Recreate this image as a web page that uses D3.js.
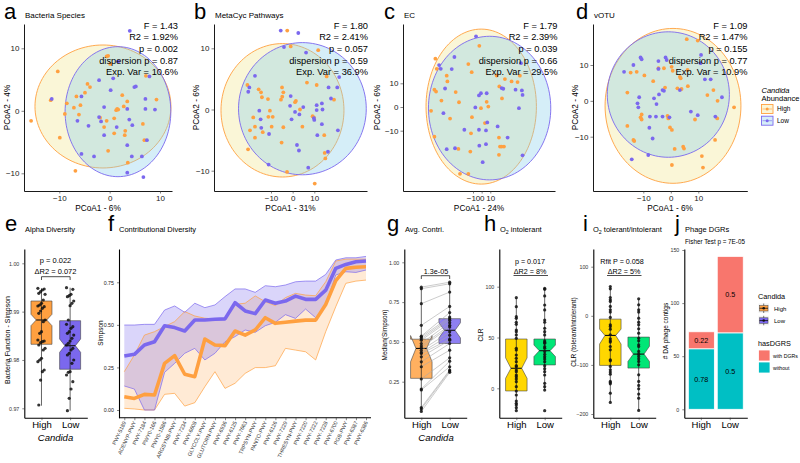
<!DOCTYPE html>
<html><head><meta charset="utf-8">
<script src="https://cdn.jsdelivr.net/npm/d3@7"></script>
<style>body{margin:0;background:#fff} svg text{font-family:"Liberation Sans",Arial,Helvetica,sans-serif}</style>
</head><body><svg id="c" width="800" height="463"></svg>
<script>
// ---------------- DATA ----------------
const groups = ["High", "Low"];
const ptColor = {High: "#FFA040", Low: "#7B68EE"};

// a: Bacteria Species PCoA
const speciesHigh = [[-0.6,8.7],[-0.3,8.8],[0.1,7.5],[-10.3,6.3],[-11.7,1.7],[-4.4,4.3],[-4.9,2.9],[-3.9,3.8],[-6.6,2.3],[-5.8,0.9],[-7.1,0.5],[-6.1,-0.6],[-8.5,1.2],[-8.9,-0.5],[-15.6,-1.6],[-9.9,-4.3],[-6.8,-9.6],[-0.3,-6.4],[-1.9,-1.1],[-1.1,-2.6],[-0.6,-1.6],[0.9,-1.2],[1.3,0.1],[1.7,0.2],[1.5,0.3],[2.8,0.7],[2.5,2.5],[3.5,1.5],[3.1,-3.2],[3.0,-3.9],[0.9,-3.6],[6.6,-2.1],[6.9,-4.7],[9.3,1.8],[3.6,-8.3],[7.2,5.6]];
const speciesLow = [[4.0,12.8],[1.7,7.9],[-2.1,4.9],[0.7,5.2],[0.2,3.3],[-5.6,2.3],[4.9,3.8],[5.2,3.9],[7.9,5.5],[7.1,1.9],[7.1,0.3],[9.0,0.2],[7.4,-4.7],[3.5,-5.5],[4.4,-7.3],[6.4,-7.3],[6.7,-10.6],[3.5,-9.9],[-5.6,-6.9],[-3.1,-7.3],[-1.1,-3.9],[1.4,-2.6],[-2.1,-1.0],[-1.7,-1.7],[-4.2,-2.4],[-6.4,-1.6],[-1.1,0.6],[3.5,0.3],[3.9,-1.4],[4.5,-2.3],[-11.5,1.9]];
const speciesEllipse = {High: [-1.33, 0.69, 13.5, 9.84], Low: [1.65, -0.14, 10.5, 10.4]};
const speciesStats = ["F = 1.43", "R2 = 1.92%", "p = 0.002", "dispersion p = 0.87", "Exp. Var = 10.6%"];

// b: MetaCyc Pathways PCoA
const pathwayHigh = [[-2.5,12.9],[-0.9,10.3],[11.8,9.7],[15.7,5.4],[6.6,4.4],[11.1,4.0],[19.1,1.6],[-20.9,4.0],[-15.7,3.3],[-14.6,2.8],[-14.2,2.0],[-11.4,1.7],[-4.9,3.6],[-4.3,2.8],[-4.8,2.1],[-5.4,1.6],[1.5,1.4],[1.1,1.2],[3.4,0.0],[-10.5,-0.2],[-11.2,-1.2],[-9.2,-1.2],[-18.2,-1.3],[-17.4,-2.8],[-19.7,-3.4],[-13.8,-3.7],[-9.7,-2.8],[-4.3,-2.9],[4.5,-2.8],[9.2,-1.1],[9.8,-1.3],[14.6,-4.2],[14.8,-7.1],[15.1,-8.0],[-5.1,-5.4],[-17.4,-4.6],[-20.6,-6.5],[-2.6,-10.2],[10.2,-12.1]];
const pathwayLow = [[-5.5,12.9],[2.6,12.5],[-4.0,10.2],[6.2,9.3],[21.5,5.3],[-17.4,5.5],[-20.0,3.6],[-20.5,2.9],[16.6,3.6],[20.6,3.6],[17.7,1.8],[11.1,0.7],[13.5,1.0],[13.8,0.0],[11.1,-0.1],[4.9,0.4],[-1.2,0.6],[1.1,-0.4],[-0.9,2.2],[-15.4,-0.2],[-14.8,-1.6],[-14.5,-3.0],[-10.9,-4.0],[-0.5,-1.6],[3.1,-0.8],[9.8,-1.4],[10.0,-1.7],[13.5,-2.4],[11.4,-4.2],[20.9,-3.4],[16.3,-6.9],[2.0,-5.8],[2.9,-6.7],[7.2,-9.5],[-11.1,-9.0]];
const pathwayEllipse = {High: [-4.7, -0.13, 28.4, 10.9], Low: [4.5, 0.13, 29.5, 10.8]};
const pathwayStats = ["F = 1.80", "R2 = 2.41%", "p = 0.057", "dispersion p = 0.59", "Exp. Var = 36.9%"];

// c: EC PCoA
const ecHigh = [[-2.7,25.8],[-53.5,20.4],[-51.9,16.1],[-40.4,13.2],[-39.6,10.8],[-15.4,18.1],[-11.5,14.7],[17.3,13.3],[26.9,11.8],[34.6,10.8],[44.2,13.2],[41.5,10.5],[20.4,8.7],[23.5,3.6],[-52.7,6.5],[-54.6,7.3],[-30.0,6.3],[-26.2,2.0],[-46.5,2.7],[-58.5,-1.6],[-36.5,-4.9],[-11.2,-4.3],[-0.8,-0.5],[5.8,2.2],[7.7,0.2],[3.8,-6.8],[-12.3,-11.1],[20.0,-12.9],[21.2,-16.7],[23.1,-16.7],[25.8,-16.7],[20.0,-20.2],[-13.1,-18.8],[-26.9,-17.7],[-54.6,-12.5],[-25.0,-28.2],[-15.4,-28.2]];
const ecLow = [[-6.5,29.8],[-49.2,17.7],[-47.3,16.1],[-31.5,21.1],[-34.6,16.0],[-42.3,7.8],[45.4,18.5],[39.2,7.3],[46.5,7.0],[47.3,5.1],[23.1,8.0],[25.0,7.7],[43.1,-0.5],[-0.8,5.8],[5.8,5.8],[-3.1,4.9],[-7.3,-0.2],[-44.2,-2.6],[-20.0,-9.6],[-3.1,-9.6],[5.0,-9.9],[6.5,-6.5],[18.5,-8.2],[30.0,-12.9],[-2.7,-16.3],[5.0,-15.7],[-40.4,-17.8],[-30.8,-17.4],[1.2,-23.3],[47.3,-20.4]];
const ecEllipse = {High: [-0.5, 0.17, 63.8, 32.7], Low: [9.2, -0.46, 70.7, 30.3]};
const ecStats = ["F = 1.79", "R2 = 2.39%", "p = 0.039", "dispersion p = 0.66", "Exp. Var = 29.5%"];

// d: vOTU PCoA
const votuHigh = [[5.8,17.2],[9.8,16.8],[-4.5,9.1],[-2.5,9.1],[0.3,9.5],[0.7,8.4],[6.1,8.6],[-14.6,7.9],[-12.4,8.1],[-9.6,7.1],[-6.4,5.5],[3.3,6.7],[3.6,6.3],[-2.1,3.7],[2.4,3.5],[3.9,3.3],[6.2,4.1],[-15.8,2.3],[15.5,3.0],[17.0,0.0],[13.3,1.6],[23.0,-1.8],[16.9,-4.9],[8.8,-5.2],[-1.2,-4.2],[-0.9,-4.9],[-10.6,-3.8],[-11.0,-4.6],[-10.6,-5.2],[-15.8,-7.0],[-0.3,-7.4],[0.4,-8.1],[-13.6,-10.9],[-13.3,-11.2],[1.4,-13.4],[4.5,-12.8],[4.8,-13.3],[16.1,-10.9],[11.3,-15.4],[11.7,-18.6],[0.4,-17.9]];
const votuLow = [[-11.0,12.1],[-10.6,11.6],[-13.6,10.0],[-17.0,8.1],[-4.5,11.1],[-1.9,12.1],[-1.5,11.4],[-4.5,8.9],[11.0,12.8],[10.8,10.5],[12.4,6.0],[14.5,6.0],[3.3,3.0],[-3.0,3.0],[-2.5,2.8],[-4.3,1.8],[-11.5,1.0],[-12.1,-0.7],[-11.8,-1.8],[-6.1,0.7],[-5.2,-0.9],[-7.6,-4.4],[-5.4,-4.4],[-3.0,-4.4],[-0.5,-4.6],[7.3,-3.0],[9.8,-4.0],[16.2,-4.4],[18.6,1.0],[-7.8,-7.5],[-6.6,-10.5],[-8.2,-15.1],[-14.2,-16.3]];
const votuEllipse = {High: [0.8, -1.4, 24.7, 21.6], Low: [-0.9, 1.76, 22.2, 17.5]};
const votuStats = ["F = 1.09", "R2 = 1.47%", "p = 0.155", "dispersion p = 0.77", "Exp. Var = 10.9%"];

// e: Alpha diversity (Bacteria Function - Simpson)
const alphaHigh = [0.99482,0.99468,0.99448,0.99413,0.99379,0.99358,0.99241,0.99172,0.99137,0.99117,0.99103,0.99068,0.99013,0.98965,0.98827,0.98792,0.98585,0.98551,0.98413,0.98392,0.98378,0.98358,0.98310,0.98241,0.98206,0.98034,0.97999,0.97965,0.97792,0.97758,0.97585,0.97068];
const alphaLow = [0.99496,0.99461,0.99358,0.99330,0.99310,0.99220,0.99172,0.99123,0.98827,0.98737,0.98689,0.98654,0.98585,0.98551,0.98516,0.98448,0.98392,0.98344,0.98310,0.98241,0.98206,0.98137,0.98103,0.97999,0.97930,0.97758,0.97744,0.97689,0.97551,0.97399,0.97206,0.96951];
// [lower whisker, Q1, notch low, median, notch high, Q3, upper whisker]
const alphaBoxHigh = [0.97054, 0.98324, 0.98709, 0.98827, 0.98945, 0.99220, 0.99483];
const alphaBoxLow = [0.96950, 0.97807, 0.98158, 0.98295, 0.98434, 0.98813, 0.99495];

// f: Contributional diversity
const pathwayCats = ["PWY-5189","ADENYP-PWY","PWY-7184","PWY0-166","PWY0-1586","ARGSYNB-PWY","PWY-7234","PWY-6608","GLYCOLY-PWY","GLUTORN-PWY","PWY-6936","PWY-6125","PWY-7663","TRPSYN-PWY","PANTO-PWY","PWY-6126","PWY-7229","THRESYN-PWY","PWY-7220","PWY-7222","PWY-7228","PWY-6700","PGB-PWY","PWY-6387","PWY-6386"];
const contribHighMed = [0.078,0.068,0.092,0.088,0.274,0.319,0.210,0.196,0.417,0.382,0.378,0.464,0.440,0.470,0.542,0.509,0.515,0.522,0.528,0.528,0.620,0.760,0.832,0.838,0.841];
const contribHighUp  = [0.225,0.323,0.440,0.460,0.490,0.519,0.578,0.552,0.539,0.535,0.539,0.621,0.627,0.670,0.636,0.613,0.660,0.685,0.675,0.671,0.753,0.875,0.886,0.886,0.886];
const contribHighLo  = [0.010,0.006,0.000,0.000,0.092,0.098,0.023,0.043,0.137,0.225,0.127,0.157,0.215,0.249,0.249,0.260,0.362,0.352,0.342,0.294,0.460,0.607,0.744,0.757,0.763];
const contribLowMed  = [0.317,0.327,0.382,0.401,0.495,0.484,0.464,0.529,0.529,0.533,0.535,0.630,0.582,0.566,0.646,0.627,0.640,0.669,0.650,0.650,0.704,0.832,0.855,0.871,0.875];
const contribLowUp   = [0.499,0.499,0.503,0.503,0.587,0.611,0.574,0.627,0.601,0.617,0.666,0.711,0.711,0.691,0.730,0.724,0.734,0.753,0.757,0.757,0.796,0.881,0.894,0.894,0.902];
const contribLowLo   = [0.141,0.123,0.000,0.000,0.221,0.274,0.333,0.362,0.294,0.333,0.401,0.431,0.470,0.456,0.495,0.515,0.560,0.538,0.593,0.542,0.616,0.793,0.812,0.808,0.822];

// g: Avg. contribution (paired)
const avgHigh = [0.844,0.834,0.740,0.604,0.536,0.531,0.521,0.511,0.490,0.475,0.463,0.448,0.434,0.427,0.406,0.375,0.344,0.267,0.204,0.198,0.088,0.079,0.063];
const avgLow  = [0.875,0.865,0.813,0.723,0.684,0.656,0.646,0.636,0.621,0.604,0.594,0.563,0.542,0.517,0.511,0.490,0.448,0.400,0.379,0.344,0.323,0.317,0.309];
const avgBoxHigh = [0.063, 0.271, 0.375, 0.459, 0.540, 0.517, 0.844];
const avgBoxLow  = [0.309, 0.490, 0.525, 0.573, 0.620, 0.646, 0.875];

// h: O2 intolerant CLR
const intolHigh = [89.2,80.3,70.5,68.9,65.0,63.0,57.4,55.7,52.5,49.2,39.4,37.7,32.8,29.5,26.2,22.3,21.3,18.0,16.4,13.1,11.4,9.2,6.5,1.6,-2.7,-6.6,-12.5,-14.8,-16.4,-19.1,-22.0];
const intolLow  = [98.4,97.4,90.9,82.0,77.1,67.2,65.0,59.1,55.7,52.5,46.6,45.3,44.3,41.0,39.4,36.1,33.4,31.1,28.9,26.2,22.3,19.3,16.4,13.1,4.9,1.6,-1.7,-22.0];
const intolBoxHigh = [-22.0, -2.6, 9.8, 19.7, 30.0, 48.5, 89.2];
const intolBoxLow  = [-1.7, 23.0, 31.2, 37.0, 42.6, 48.5, 98.4];

// i: O2 tolerant/intolerant CLR
const tolHigh = [59.7,55.0,37.3,32.6,29.2,19.0,12.2,7.5,-3.4,-18.3,-21.7,-27.2,-38.7,-46.8,-50.9,-53.6,-62.5,-69.2,-89.6,-91.6,-103.2,-110.0,-114.7,-118.8,-133.7,-135.8,-138.5,-157.5,-176.5];
const tolLow  = [34.6,22.4,12.2,7.5,-4.8,-12.9,-18.3,-26.5,-35.3,-45.5,-50.9,-59.1,-62.5,-72.6,-78.1,-82.8,-87.6,-93.0,-99.8,-120.2,-133.7,-141.9,-148.7,-159.5,-167.7,-192.8];
const tolBoxHigh = [-176.5, -101.0, -57.6, -40.0, -27.0, -6.8, 59.7];
const tolBoxLow  = [-192.8, -106.5, -93.0, -78.0, -62.0, -43.4, 34.6];

// j: Phage DGRs
const dgrKinds = ["without", "with DGRs"];
const dgrWith = [16, 72];     // High, Low
const dgrWithout = [57, 72];  // High, Low
const dgrColor = {"with DGRs": "#F8766D", "without": "#00BFC4"};

// ---------------- DRAWING ----------------
const svg = d3.select("#c");
const BLACK = "#000";

function fit(d0, p0, d1, p1, pa, pb) {
  const s = d3.scaleLinear().domain([d0, d1]).range([p0, p1]);
  return d3.scaleLinear().domain([s.invert(pa), s.invert(pb)]).range([pa, pb]);
}
function styleAxis(sel, fs, sw) {
  sel.select(".domain").attr("stroke", BLACK).attr("stroke-width", sw);
  sel.selectAll(".tick line").attr("stroke", "#333").attr("stroke-width", 0.6);
  sel.selectAll(".tick text").attr("font-size", fs).attr("fill", "#222")
     .style("font-family", '"Liberation Sans",Arial,sans-serif');
}
function txt(x, y, s, fs, opts = {}) {
  const t = svg.append("text").attr("x", x).attr("y", y).attr("font-size", fs).text(s)
    .attr("fill", opts.fill || "#000");
  if (opts.anchor) t.attr("text-anchor", opts.anchor);
  if (opts.italic) t.attr("font-style", "italic");
  if (opts.rot) t.attr("transform", `rotate(${opts.rot},${x},${y})`);
  return t;
}

// ---------- top row scatter panels ----------
const topPanels = [
  {L: "a", lx: 4, title: "Bacteria Species", hi: speciesHigh, lo: speciesLow, el: speciesEllipse, st: speciesStats,
   px: [24, 172], xr: [-10, 59.3, 10, 160], yr: [-10, 173.3, 10, 48.3], xl: "PCoA1 - 6%", yl: "PCoA2 - 4%", ylx: 7, sx: 178},
  {L: "b", lx: 194, title: "MetaCyc Pathways", hi: pathwayHigh, lo: pathwayLow, el: pathwayEllipse, st: pathwayStats,
   px: [214, 367], xr: [-10, 271, 10, 314.3], yr: [-10, 170.7, 10, 48.3], xl: "PCoA1 - 31%", yl: "PCoA2 - 6%", ylx: 196, sx: 368},
  {L: "c", lx: 384, title: "EC", hi: ecHigh, lo: ecLow, el: ecEllipse, st: ecStats,
   px: [403, 555], xr: [-10, 473, 10, 490.3], yr: [-10, 130.7, 10, 83.3], xl: "PCoA1 - 24%", yl: "PCoA2 - 6%", ylx: 377, sx: 557.5},
  {L: "d", lx: 576, title: "vOTU", hi: votuHigh, lo: votuLow, el: votuEllipse, st: votuStats,
   px: [593, 747.3], xr: [-10, 643.3, 10, 698.3], yr: [-10, 136.7, 10, 65], xl: "PCoA1 - 6%", yl: "PCoA2 - 4%", ylx: 575, sx: 747.5}
];
const ellFill = {High: "#F0E68C", Low: "#87CEEB"};
topPanels.forEach(p => {
  const x = fit(p.xr[0], p.xr[1], p.xr[2], p.xr[3], p.px[0], p.px[1]);
  const y = fit(p.yr[0], p.yr[1], p.yr[2], p.yr[3], 191, 24);
  const g = svg.append("g");
  const line = d3.line();
  groups.forEach(k => {
    const [cx, cy, rx, ry] = p.el[k];
    const pts = d3.range(0, 361, 3).map(a => {
      const t = a * Math.PI / 180;
      return [x(cx + rx * Math.cos(t)), y(cy + ry * Math.sin(t))];
    });
    g.append("path").attr("d", line(pts) + "Z").attr("fill", ellFill[k]).attr("fill-opacity", 0.35)
      .attr("stroke", ptColor[k]).attr("stroke-width", 0.9);
  });
  [["High", p.hi], ["Low", p.lo]].forEach(([k, arr]) => {
    g.selectAll(null).data(arr).enter().append("circle")
      .attr("cx", d => x(d[0])).attr("cy", d => y(d[1])).attr("r", 1.9).attr("fill", ptColor[k]);
  });
  const ax = g.append("g").attr("transform", "translate(0,191)")
    .call(d3.axisBottom(x).tickValues([-10, 0, 10]).tickSize(2.5).tickPadding(1.5).tickSizeOuter(0));
  styleAxis(ax, 8, 0.9);
  const ay = g.append("g").attr("transform", `translate(${p.px[0]},0)`)
    .call(d3.axisLeft(y).tickValues([-10, 0, 10]).tickSize(2.5).tickPadding(2).tickSizeOuter(0));
  styleAxis(ay, 8, 0.9);
  p.st.forEach((s, i) => txt(p.sx, 28.5 + i * 11.7, s, 9.3, {anchor: "end"}));
  txt(p.lx, 18.5, p.L, 22);
  txt(p.px[0] + 1, 17.5, p.title, 8);
  txt((p.px[0] + p.px[1]) / 2, 211, p.xl, 8.3, {anchor: "middle"});
  txt(p.ylx + 3, 107.5, p.yl, 8.3, {anchor: "middle", rot: -90});
});

// top legend
txt(761.5, 92.5, "Candida", 7.5, {italic: true});
txt(761.5, 100.5, "Abundance", 7.5);
groups.forEach((k, i) => {
  const y0 = 104.5 + i * 11.7;
  svg.append("rect").attr("x", 761.5).attr("y", y0).attr("width", 11.5).attr("height", 9)
    .attr("fill", ellFill[k]).attr("fill-opacity", 0.35).attr("stroke", ptColor[k]).attr("stroke-width", 0.9);
  svg.append("line").attr("x1", 762.5).attr("x2", 772).attr("y1", y0 + 4.5).attr("y2", y0 + 4.5)
    .attr("stroke", ptColor[k]).attr("stroke-width", 0.6);
  svg.append("circle").attr("cx", 767.2).attr("cy", y0 + 4.5).attr("r", 1.5).attr("fill", ptColor[k]);
  txt(777, y0 + 6.8, k, 6.5);
});

// ---------- bottom row ----------
const BOT = 417.7, TOP = 249;
function catScale(x0, x1) { return d3.scalePoint().domain(groups).range([x0, x1]).padding(0.6); }
function bottomAxes(x, y, x0, ticks, fmt) {
  const ax = svg.append("g").attr("transform", `translate(0,${BOT})`)
    .call(d3.axisBottom(x).tickSize(2.5).tickPadding(1).tickSizeOuter(0));
  styleAxis(ax, 9.5, 1.1);
  ax.selectAll(".tick text").attr("fill", "#000");
  const ay = svg.append("g").attr("transform", `translate(${x0},0)`)
    .call(d3.axisLeft(y).tickValues(ticks).tickFormat(fmt).tickSize(2).tickSizeOuter(0));
  styleAxis(ay, 5.3, 1.1);
  ay.selectAll(".tick text").attr("fill", "#333");
}
function notchBox(x, y, k, b, w, fill, op) {
  const xc = x(k), l = xc - w / 2, r = xc + w / 2, nl = xc - w / 4, nr = xc + w / 4;
  const [lo, q1, n1, md, n2, q3, hi] = b;
  const poly = [[l, y(q3)], [l, y(n2)], [nl, y(md)], [l, y(n1)], [l, y(q1)], [r, y(q1)], [r, y(n1)], [nr, y(md)], [r, y(n2)], [r, y(q3)]];
  svg.append("path").attr("d", d3.line()(poly) + "Z").attr("fill", fill).attr("fill-opacity", op)
    .attr("stroke", "#444").attr("stroke-width", 0.6);
  svg.append("line").attr("x1", nl).attr("x2", nr).attr("y1", y(md)).attr("y2", y(md))
    .attr("stroke", "#111").attr("stroke-width", 1.1);
  svg.append("line").attr("x1", xc).attr("x2", xc).attr("y1", y(lo)).attr("y2", y(hi))
    .attr("stroke", "#222").attr("stroke-width", 0.7);
}
function dots(x, y, k, arr, jit, r) {
  svg.selectAll(null).data(arr).enter().append("circle")
    .attr("cx", (d, i) => x(k) + (jit ? ((i * 7) % 9 - 4) * jit : 0))
    .attr("cy", d => y(d)).attr("r", r).attr("fill", "#111").attr("fill-opacity", 0.85);
}
function bracket(xa, xb, yb, tick) {
  const p = tick ? `M${xa},${yb + 3.3}V${yb}H${xb}V${yb + 3.3}` : `M${xa},${yb}H${xb}`;
  svg.append("path").attr("d", p).attr("fill", "none").attr("stroke", "#000").attr("stroke-width", 0.7);
}
function subTitle(x, y, pre, post, fs) {
  const t = svg.append("text").attr("x", x).attr("y", y).attr("font-size", fs);
  t.append("tspan").text(pre);
  t.append("tspan").attr("font-size", fs * 0.7).attr("dy", 2).text("2");
  t.append("tspan").attr("dy", -2).text(post);
}
// panel letters and titles
txt(5, 231, "e", 22); txt(25, 232, "Alpha Diversity", 7.5);
txt(108, 231, "f", 22); txt(119, 232, "Contributional Diversity", 7.5);
txt(387, 231, "g", 22); txt(405, 232, "Avg. Contri.", 7.5);
txt(484, 231, "h", 22); subTitle(500, 232, "O", "  intolerant", 7.5);
txt(583, 231, "i", 22); subTitle(593, 232, "O", "  tolerant/intolerant", 7.5);
txt(675, 231, "j", 22); txt(685, 232, "Phage DGRs", 7.5);

// e
{
  const x = catScale(24.3, 87.3);
  const y = fit(0.97, 408.3, 1.00, 263.3, BOT, TOP);
  notchBox(x, y, "High", alphaBoxHigh, 21, ptColor.High, 1);
  notchBox(x, y, "Low", alphaBoxLow, 21, ptColor.Low, 1);
  dots(x, y, "High", alphaHigh, 0.9, 1.6);
  dots(x, y, "Low", alphaLow, 0.9, 1.6);
  bottomAxes(x, y, 24.3, [0.97, 0.98, 0.99, 1.00], d3.format(".2f"));
  txt(55.5, 262.7, "p = 0.022", 7.5, {anchor: "middle"});
  txt(55.5, 274.2, "\u0394R2 = 0.072", 7.5, {anchor: "middle"});
  bracket(x("High"), x("Low"), 276.7, true);
  txt(10, 340, "Bacteria Function - Simpson", 7, {anchor: "middle", rot: -90});
  txt(55.5, 441, "Candida", 9.5, {anchor: "middle", italic: true});
}
// f
{
  const x = d3.scalePoint().domain(pathwayCats).range([124.3, 366]);
  const y = fit(0, 410, 0.75, 282.3, BOT, TOP);
  const area = (up, lo) => d3.area().x((d, i) => x(pathwayCats[i])).y0((d, i) => y(lo[i])).y1((d, i) => y(up[i]))(up);
  const ln = arr => d3.line().x((d, i) => x(pathwayCats[i])).y(d => y(d))(arr);
  svg.append("path").attr("d", area(contribHighUp, contribHighLo)).attr("fill", "#FFA040").attr("fill-opacity", 0.22);
  svg.append("path").attr("d", area(contribLowUp, contribLowLo)).attr("fill", "#7B68EE").attr("fill-opacity", 0.28);
  [[contribHighUp, "High"], [contribHighLo, "High"], [contribLowUp, "Low"], [contribLowLo, "Low"]].forEach(([a, k]) =>
    svg.append("path").attr("d", ln(a)).attr("fill", "none").attr("stroke", ptColor[k]).attr("stroke-width", 0.7));
  svg.append("path").attr("d", ln(contribHighMed)).attr("fill", "none").attr("stroke", ptColor.High).attr("stroke-width", 3.6).attr("stroke-linejoin", "round");
  svg.append("path").attr("d", ln(contribLowMed)).attr("fill", "none").attr("stroke", ptColor.Low).attr("stroke-width", 3.6).attr("stroke-linejoin", "round");
  const ax = svg.append("g").attr("transform", `translate(0,${BOT})`)
    .call(d3.axisBottom(x).tickSize(2.5).tickSizeOuter(0));
  ax.select(".domain").attr("d", `M119,0H371`).attr("stroke", BLACK).attr("stroke-width", 1.1);
  ax.selectAll(".tick line").attr("stroke", "#333").attr("stroke-width", 0.6);
  ax.selectAll(".tick text").attr("font-size", 5.4).attr("fill", "#333").attr("text-anchor", "end")
    .attr("dy", null).attr("y", 0).attr("transform", "translate(1.5,4.5) rotate(-65)");
  const ay = svg.append("g").attr("transform", "translate(119,0)")
    .call(d3.axisLeft(y).tickValues([0, 0.25, 0.5, 0.75]).tickFormat(d3.format(".2f")).tickSize(2).tickSizeOuter(0));
  styleAxis(ay, 5.3, 1.1);
  txt(103, 333, "Simpson", 6.5, {anchor: "middle", rot: -90});
}
// g
{
  const x = catScale(404.3, 466.7);
  const y = fit(0.25, 381.7, 1.0, 262.3, BOT, TOP);
  notchBox(x, y, "High", avgBoxHigh, 21.5, "#FFB060", 1);
  notchBox(x, y, "Low", avgBoxLow, 21.5, "#8E7FF2", 1);
  avgHigh.forEach((v, i) => svg.append("line").attr("x1", x("High")).attr("x2", x("Low"))
    .attr("y1", y(v)).attr("y2", y(avgLow[i])).attr("stroke", "#aaa").attr("stroke-width", 0.6));
  dots(x, y, "High", avgHigh, 0, 1.6);
  dots(x, y, "Low", avgLow, 0, 1.6);
  bottomAxes(x, y, 404.3, [0.25, 0.5, 0.75, 1.0], d3.format(".2f"));
  txt(436, 274, "1.3e-05", 7.2, {anchor: "middle"});
  bracket(x("High"), x("Low"), 275.7, true);
  txt(387, 335, "Median(Simpson)", 6.5, {anchor: "middle", rot: -90});
  txt(436, 441, "Candida", 9.5, {anchor: "middle", italic: true});
}
// h
{
  const x = catScale(499.3, 561.7);
  const y = fit(0, 388.3, 100, 286.7, BOT, TOP);
  notchBox(x, y, "High", intolBoxHigh, 21.5, "#FFD700", 1);
  notchBox(x, y, "Low", intolBoxLow, 21.5, "#00E676", 1);
  dots(x, y, "High", intolHigh, 0, 1.6);
  dots(x, y, "Low", intolLow, 0, 1.6);
  bottomAxes(x, y, 499.3, [0, 50, 100], d3.format("d"));
  txt(530, 263.5, "p = 0.017", 7.2, {anchor: "middle"});
  txt(530, 274, "\u0394R2 = 8%", 7.2, {anchor: "middle"});
  bracket(513.5, 548, 275.5, false);
  txt(483, 335, "CLR", 6.5, {anchor: "middle", rot: -90});
}
// i
{
  const x = catScale(593.3, 655.7);
  const y = fit(-200, 414, 100, 266.7, BOT, TOP);
  notchBox(x, y, "High", tolBoxHigh, 21.5, "#FFD700", 1);
  notchBox(x, y, "Low", tolBoxLow, 21.5, "#00E676", 1);
  dots(x, y, "High", tolHigh, 0, 1.6);
  dots(x, y, "Low", tolLow, 0, 1.6);
  bottomAxes(x, y, 593.3, [-200, -100, 0, 100], d3.format("d"));
  txt(622, 263.5, "Rfit P = 0.058", 7.2, {anchor: "middle"});
  txt(624, 274, "\u0394R2 = 5%", 7.2, {anchor: "middle"});
  bracket(607, 641.5, 275.5, false);
  txt(576, 332, "CLR (tolerant/intolerant)", 6.5, {anchor: "middle", rot: -90});
}
// j
{
  const x = d3.scaleBand().domain(groups).range([684.3, 747.3]).paddingInner(0.1).paddingOuter(0.14);
  const y = fit(0, 409.3, 150, 250, BOT, TOP);
  const rows = groups.map((k, i) => ({grp: k, "without": dgrWithout[i], "with DGRs": dgrWith[i]}));
  const stack = d3.stack().keys(dgrKinds)(rows);
  stack.forEach(layer => {
    layer.forEach(d => {
      const tot = d.data["without"] + d.data["with DGRs"];
      svg.append("rect").attr("x", x(d.data.grp)).attr("width", x.bandwidth())
        .attr("y", y(d[1])).attr("height", y(d[0]) - y(d[1]))
        .attr("fill", dgrColor[layer.key]).attr("stroke", "#fff").attr("stroke-width", 0.8);
      const frac = (d[1] - d[0]) / tot;
      txt(x(d.data.grp) + x.bandwidth() / 2, (y(d[0]) + y(d[1])) / 2 + 2.5,
          d3.format(".2")(frac).replace(/^0\.50?$/, "0.5"), 7.2, {anchor: "middle"});
    });
  });
  bottomAxes(x, y, 684.3, [0, 50, 100, 150], d3.format("d"));
  txt(685, 243.5, "Fisher Test p = 7E-05", 6.3);
  txt(668, 331, "# DA phage contigs", 6.5, {anchor: "middle", rot: -90});
}
// bottom legend
txt(758, 299, "Candida", 7.3);
groups.forEach((k, i) => {
  const y0 = 303.5 + i * 12.3;
  svg.append("rect").attr("x", 758.5).attr("y", y0).attr("width", 10.5).attr("height", 9.5).attr("fill", "#f2f2f2");
  svg.append("line").attr("x1", 763.7).attr("x2", 763.7).attr("y1", y0).attr("y2", y0 + 9.5).attr("stroke", "#222").attr("stroke-width", 0.6);
  svg.append("rect").attr("x", 759.5).attr("y", y0 + 2).attr("width", 8.5).attr("height", 5.5)
    .attr("fill", ptColor[k]).attr("stroke", "#444").attr("stroke-width", 0.5);
  svg.append("line").attr("x1", 759.5).attr("x2", 768).attr("y1", y0 + 4.75).attr("y2", y0 + 4.75).attr("stroke", "#111").attr("stroke-width", 0.8);
  svg.append("circle").attr("cx", 763.7).attr("cy", y0 + 4.75).attr("r", 1.3).attr("fill", "#111");
  txt(774, y0 + 7, k, 6);
});
txt(758, 346, "hasDGRS", 7.3);
["with DGRs", "without"].forEach((k, i) => {
  const y0 = 350 + i * 12;
  svg.append("rect").attr("x", 758.5).attr("y", y0).attr("width", 11.5).attr("height", 11)
    .attr("fill", dgrColor[k]).attr("stroke", "#fff").attr("stroke-width", 0.8);
  txt(773, y0 + 7.5, k, 5.2);
});
</script></body></html>
